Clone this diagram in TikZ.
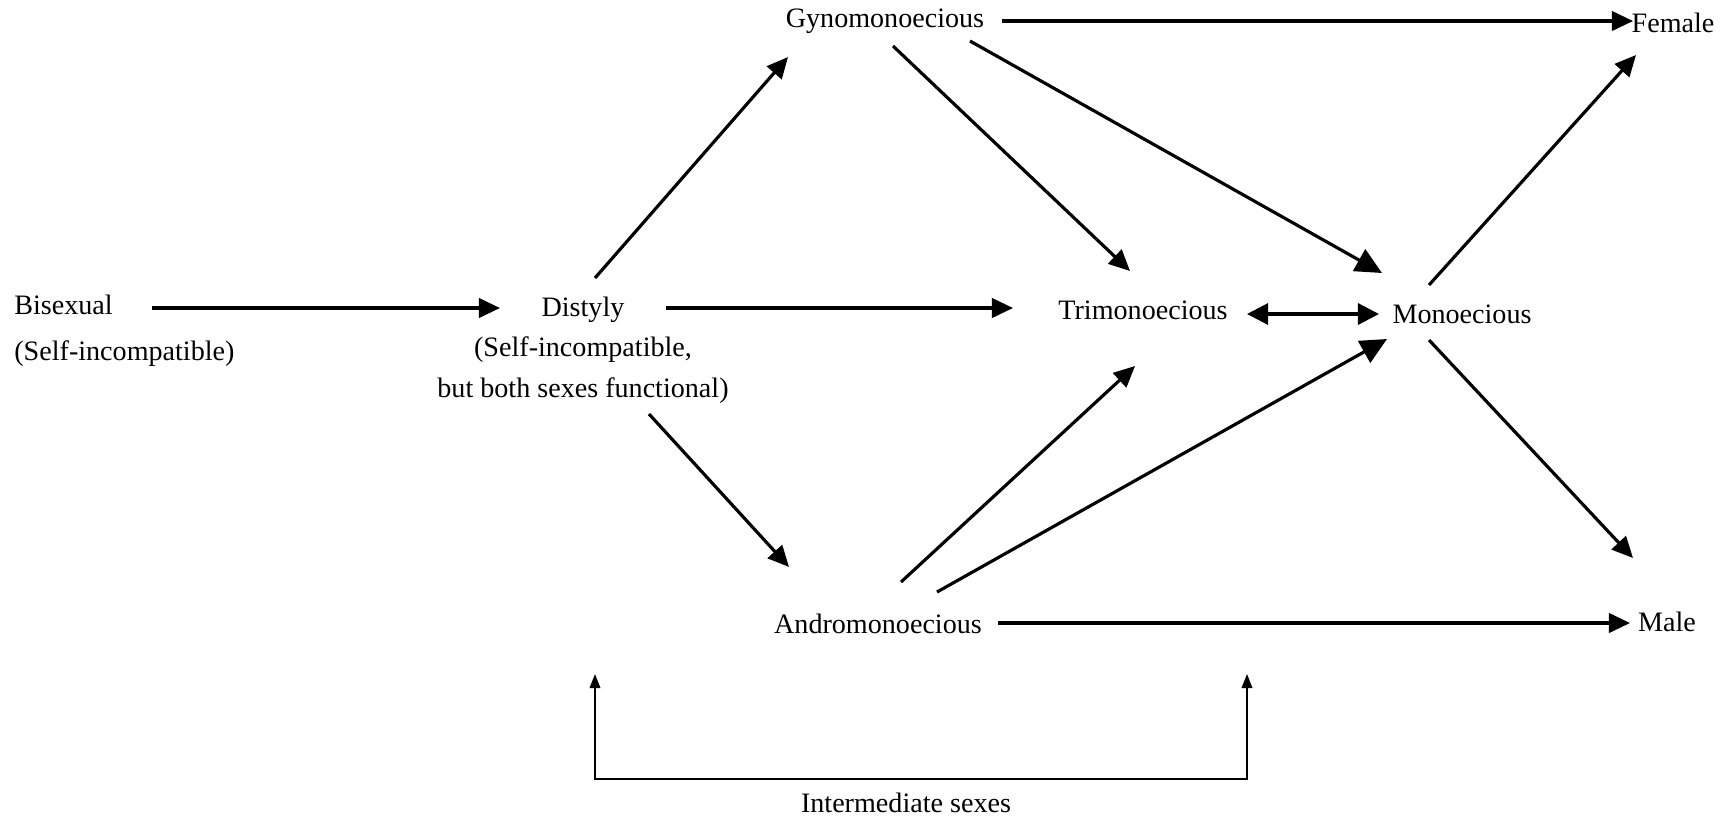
\documentclass[tikz,border=0pt]{standalone}
\usepackage{fontspec}
\setmainfont{Liberation Serif}
\usetikzlibrary{arrows.meta}

\begin{document}
\begin{tikzpicture}[x=0.02cm, y=-0.02cm,
    font=\fontsize{16}{23}\selectfont,
    lbl/.style={inner sep=0pt, align=center},
    arr/.style={line width=1.8pt, -{Triangle[length=12pt, width=11pt]}},
    bigarr/.style={line width=1.8pt, -{Triangle[length=15pt, width=14pt]}},
    dblarr/.style={line width=1.8pt, {Triangle[length=12pt, width=12pt]}-{Triangle[length=12pt, width=12pt]}},
    brk/.style={line width=1.1pt, {Triangle[length=8pt, width=6pt]}-{Triangle[length=8pt, width=6pt]}}]
    \useasboundingbox (0,0) rectangle (1733,819);

    \node[lbl, anchor=west, align=left] (bisex) at (14,331) {Bisexual\\[3pt](Self-incompatible)};
    \node[lbl] (dist) at (583,350) {Distyly\\(Self-incompatible,\\but both sexes functional)};
    \node[lbl] (gyno) at (885,21) {Gynomonoecious};
    \node[lbl] (andro) at (878,624) {Andromonoecious};
    \node[lbl] (trimo) at (1143,310) {Trimonoecious};
    \node[lbl] (mono) at (1462,314) {Monoecious};
    \node[lbl] (fem) at (1673,23) {Female};
    \node[lbl] (male) at (1667,622) {Male};
    \node[lbl] (inter) at (906,803) {Intermediate sexes};
    \coordinate (ltip) at (595,674);
    \coordinate (rtip) at (1247,674);

    \draw[arr] ([shift={(138,-23)}]bisex.west) -- ([shift={(-83,-42)}]dist.center);
    \draw[arr] ([shift={(83,-42)}]dist.center) -- ([shift={(-130,-2)}]trimo.center);
    \draw[arr] ([shift={(12,-72)}]dist.center) -- ([shift={(-97,36)}]gyno.center);
    \draw[arr] ([shift={(66,64)}]dist.center) -- ([shift={(-89,-57)}]andro.center);
    \draw[arr] ([shift={(117,0)}]gyno.center) -- ([shift={(-40,-2)}]fem.center);
    \draw[arr] ([shift={(8,25)}]gyno.center) -- ([shift={(-13,-39)}]trimo.center);
    \draw[bigarr] ([shift={(85,20)}]gyno.center) -- ([shift={(-80,-41)}]mono.center);
    \draw[arr] ([shift={(120,-1)}]andro.center) -- ([shift={(-37,1)}]male.center);
    \draw[arr] ([shift={(23,-42)}]andro.center) -- ([shift={(-8,56)}]trimo.center);
    \draw[bigarr] ([shift={(59,-32)}]andro.center) -- ([shift={(-75,25)}]mono.center);
    \draw[dblarr] ([shift={(104,4)}]trimo.center) -- ([shift={(-83,0)}]mono.center);
    \draw[arr] ([shift={(-33,-29)}]mono.center) -- ([shift={(-37,32)}]fem.center);
    \draw[arr] ([shift={(-33,26)}]mono.center) -- ([shift={(-34,-64)}]male.center);

    % intermediate sexes bracket
    \draw[brk] (ltip) |- ([shift={(0,-24)}]inter.center) -| (rtip);
\end{tikzpicture}
\end{document}
